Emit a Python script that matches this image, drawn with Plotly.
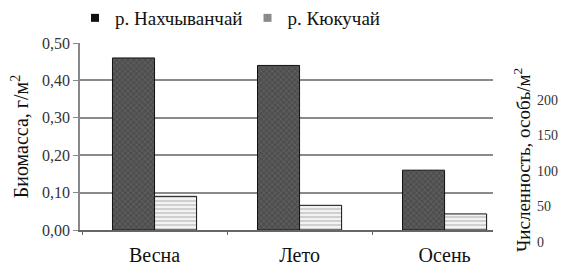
import plotly.graph_objects as go

seasons = ["Весна", "Лето", "Осень"]
series_names = ["р. Нахчыванчай", "р. Кюкучай"]
biomass_nakh = [0.46, 0.44, 0.16]
biomass_kyuk = [0.09, 0.066, 0.043]
left_ticks = [0.0, 0.1, 0.2, 0.3, 0.4, 0.5]
right_ticks = [0, 50, 100, 150, 200]

# page body adds an 8px offset, so the figure is laid out 8px smaller
OFF = 8
W, H = 566 - OFF, 276 - OFF
L, R, T, B = 72, 30, 35, 34
paper_h = H - T - B
paper_w = W - L - R
plot_right = 485
y1_bottom = 222

FONT = "Liberation Serif"

fig = go.Figure()
fig.add_trace(go.Bar(
    x=seasons, y=biomass_nakh, name=series_names[0], showlegend=False,
    marker=dict(color="#4e4e4e", line=dict(color="#111111", width=1),
                pattern=dict(shape="x", fgcolor="#8c8c8c", bgcolor="#4e4e4e",
                             size=4, solidity=0.25)),
))
fig.add_trace(go.Bar(
    x=seasons, y=biomass_kyuk, name=series_names[1], showlegend=False,
    marker=dict(color="#d8d8d8", line=dict(color="#111111", width=1),
                pattern=dict(shape="-", fgcolor="#9a9a9a", bgcolor="#f2f2f2",
                             size=4, solidity=0.4)),
))
# legend entries (small solid squares as in the original)
for nm, col in zip(series_names, ["#111111", "#8a8a8a"]):
    fig.add_trace(go.Scatter(x=[None], y=[None], name=nm, mode="markers",
                             marker=dict(symbol="square", size=8, color=col)))
# invisible trace to activate the right axis
fig.add_trace(go.Scatter(x=[seasons[0]], y=[0], yaxis="y2", mode="markers",
                         marker=dict(opacity=0), showlegend=False, hoverinfo="skip"))

x_dom_end = (plot_right - L) / paper_w
y1_dom_start = (H - B - y1_bottom) / paper_h
r_px_per = (242 - 100) / 200.0
r_max = 230
y2_dom_end = (r_max * r_px_per) / paper_h

fig.update_layout(
    width=W, height=H,
    margin=dict(l=L, r=R, t=T, b=B, autoexpand=False),
    paper_bgcolor="white", plot_bgcolor="rgba(0,0,0,0)",
    separators=", ",
    barmode="group", bargap=0.42, bargroupgap=0,
    font=dict(family=FONT, color="#111111", size=16),
    showlegend=True,
    legend=dict(orientation="h", x=(67 - L) / paper_w, xanchor="left",
                y=1 + (T - 10) / paper_h, yanchor="middle",
                font=dict(size=19, family=FONT),
                bgcolor="rgba(0,0,0,0)", itemwidth=30, tracegroupgap=0),
    xaxis=dict(domain=[0, x_dom_end], range=[-0.514, 2.334], anchor="y",
               showline=True, linecolor="#666666", linewidth=1.5,
               ticks="outside", tickson="boundaries", ticklen=3, tickcolor="#666666",
               tickfont=dict(size=20, family=FONT), ticklabelstandoff=6,
               showgrid=False),
    yaxis=dict(domain=[y1_dom_start, 1], range=[0, 0.5], tickvals=left_ticks,
               tickformat=".2f", showline=True, linecolor="#888888", linewidth=1.5,
               ticks="outside", ticklen=5, tickcolor="#888888",
               showgrid=True, gridcolor="#8a8a8a", gridwidth=1.5,
               zeroline=False, tickfont=dict(size=16, family=FONT, color="#333333"),
               title=dict(text="Биомасса, г/м<sup>2</sup>", font=dict(size=20, family=FONT),
                          standoff=11)),
    yaxis2=dict(domain=[0, y2_dom_end], range=[0, r_max], tickvals=right_ticks,
                anchor="free", position=1, side="right",
                showline=False, ticks="", showgrid=False, zeroline=False,
                tickfont=dict(size=14, family=FONT, color="#333333")),
    annotations=[dict(text="Численность, особь/м<sup>2</sup>", textangle=-90,
                      x=(514 - L) / paper_w, y=(234 - 152) / paper_h,
                      xref="paper", yref="paper", xanchor="center", yanchor="middle",
                      showarrow=False,
                      font=dict(size=19, family=FONT, color="#111111"))],
)

fig.write_html("out.html")
